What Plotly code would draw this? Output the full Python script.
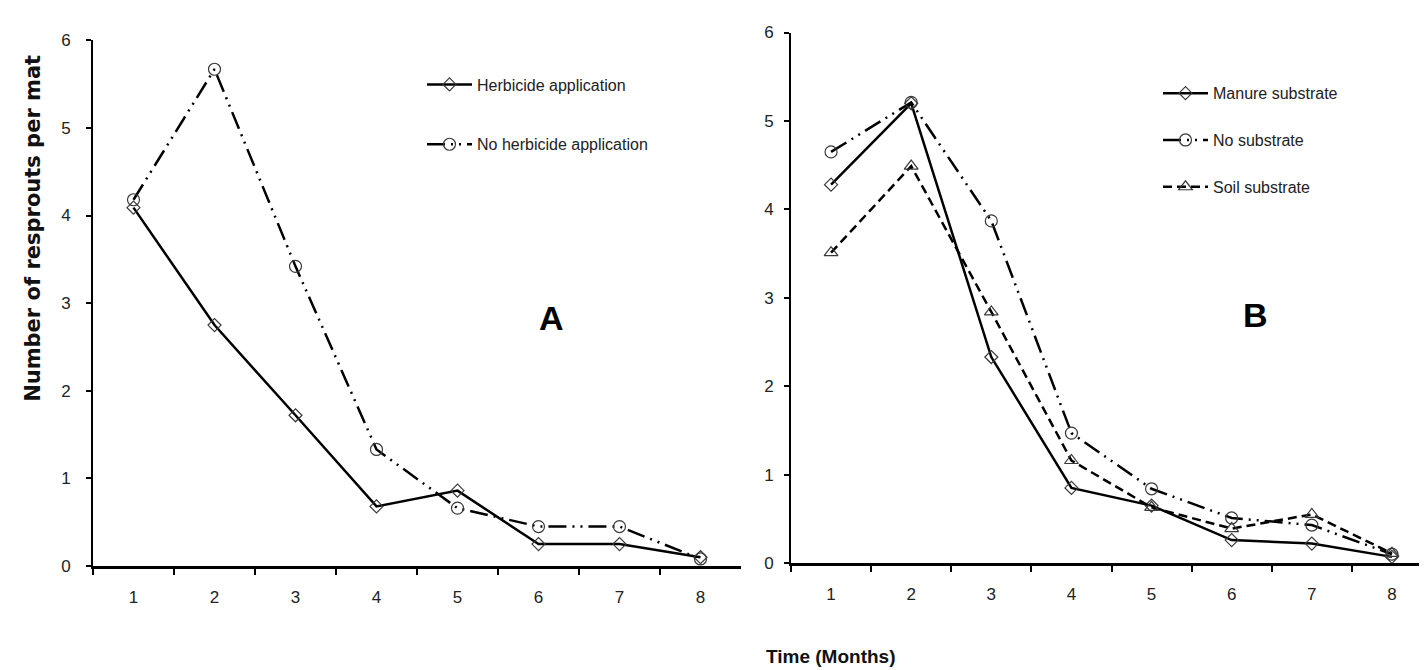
import plotly.graph_objects as go

months = ["1", "2", "3", "4", "5", "6", "7", "8"]

# Panel A
herbicide = [4.09, 2.75, 1.72, 0.68, 0.86, 0.25, 0.25, 0.10]
no_herbicide = [4.18, 5.67, 3.42, 1.33, 0.66, 0.45, 0.45, 0.08]

# Panel B
manure = [4.28, 5.20, 2.33, 0.85, 0.65, 0.26, 0.22, 0.07]
no_substrate = [4.65, 5.21, 3.87, 1.47, 0.84, 0.51, 0.43, 0.10]
soil = [3.51, 4.49, 2.84, 1.16, 0.63, 0.39, 0.55, 0.11]

y_ticks = [0, 1, 2, 3, 4, 5, 6]

NARROW = "Liberation Sans Narrow, Arial Narrow, Liberation Sans, Arial, sans-serif"
DASHDOTDOT = "18px,6px,2px,6px,2px,6px"

fig = go.Figure()

def add(x, y, name, dash, symbol, size, xa, ya, leg, grp):
    fig.add_trace(go.Scatter(
        x=x, y=y, name=name, mode="lines+markers",
        line=dict(color="black", width=2.5, dash=dash),
        marker=dict(symbol=symbol, size=size, color="#3a3a3a",
                    line=dict(color="#3a3a3a", width=1.2)),
        xaxis=xa, yaxis=ya, legend=leg, legendgroup=grp,
    ))

add(months, herbicide, "Herbicide application", "solid", "diamond-open", 10, "x", "y", "legend", "a1")
add(months, no_herbicide, "No herbicide application", DASHDOTDOT, "circle-open", 12, "x", "y", "legend", "a2")
add(months, manure, "Manure substrate", "solid", "diamond-open", 10, "x2", "y2", "legend2", "b1")
add(months, no_substrate, "No substrate", DASHDOTDOT, "circle-open", 12, "x2", "y2", "legend2", "b2")
add(months, soil, "Soil substrate", "9px,5px", "triangle-up-open", 12, "x2", "y2", "legend2", "b3")

W, H = 1427, 670

def xax(d0, d1, anchor):
    return dict(domain=[d0 / W, d1 / W], anchor=anchor, type="category",
                categoryorder="array", categoryarray=months,
                range=[-0.5, 7.5], tickson="boundaries",
                showline=True, linecolor="black", linewidth=3,
                ticks="outside", ticklen=6, tickwidth=2, tickcolor="black",
                showgrid=False, zeroline=False, ticklabelstandoff=14,
                tickfont=dict(family=NARROW, size=17, color="#222"))

def yax(top, bottom, anchor, standoff):
    return dict(domain=[(H - bottom) / H, (H - top) / H], anchor=anchor,
                range=[0, 6], tickvals=y_ticks,
                showline=True, linecolor="black", linewidth=2,
                ticks="outside", ticklen=5, tickwidth=2, tickcolor="black",
                showgrid=False, zeroline=False, ticklabelstandoff=standoff,
                tickfont=dict(family=NARROW, size=17, color="#222"))

fig.update_layout(
    width=W, height=H,
    margin=dict(l=0, r=0, t=0, b=0),
    paper_bgcolor="white", plot_bgcolor="white",
    xaxis=xax(85, 733, "y"),
    yaxis=yax(24, 565, "x", 12),
    xaxis2=xax(783, 1424, "y2"),
    yaxis2=yax(16, 562, "x2", 7),
    legend=dict(x=414 / W, y=(H - 52) / H, xanchor="left", yanchor="top",
                bgcolor="rgba(0,0,0,0)", borderwidth=0, itemwidth=45,
                tracegroupgap=36, font=dict(family=NARROW, size=16, color="#222")),
    legend2=dict(x=1150 / W, y=(H - 61) / H, xanchor="left", yanchor="top",
                 bgcolor="rgba(0,0,0,0)", borderwidth=0, itemwidth=45,
                 tracegroupgap=23, font=dict(family=NARROW, size=16, color="#222")),
    annotations=[
        dict(text="<b>A</b>", x=543 / W, y=(H - 310) / H, xref="paper", yref="paper",
             xanchor="center", yanchor="middle",
             showarrow=False, font=dict(family=NARROW, size=34, color="black")),
        dict(text="<b>B</b>", x=1247 / W, y=(H - 307) / H, xref="paper", yref="paper",
             xanchor="center", yanchor="middle",
             showarrow=False, font=dict(family=NARROW, size=34, color="black")),
        dict(text="<b>Number of resprouts per mat</b>", x=25 / W, y=(H - 218) / H,
             xref="paper", yref="paper", showarrow=False, textangle=-90,
             xanchor="center", yanchor="middle",
             font=dict(family="DejaVu Sans", size=21, color="#111")),
        dict(text="<b>Time (Months)</b>", x=822 / W, y=(H - 658) / H,
             xref="paper", yref="paper", showarrow=False,
             xanchor="center", yanchor="middle",
             font=dict(family=NARROW, size=19, color="#111")),
    ],
)

fig.write_html("out.html")
